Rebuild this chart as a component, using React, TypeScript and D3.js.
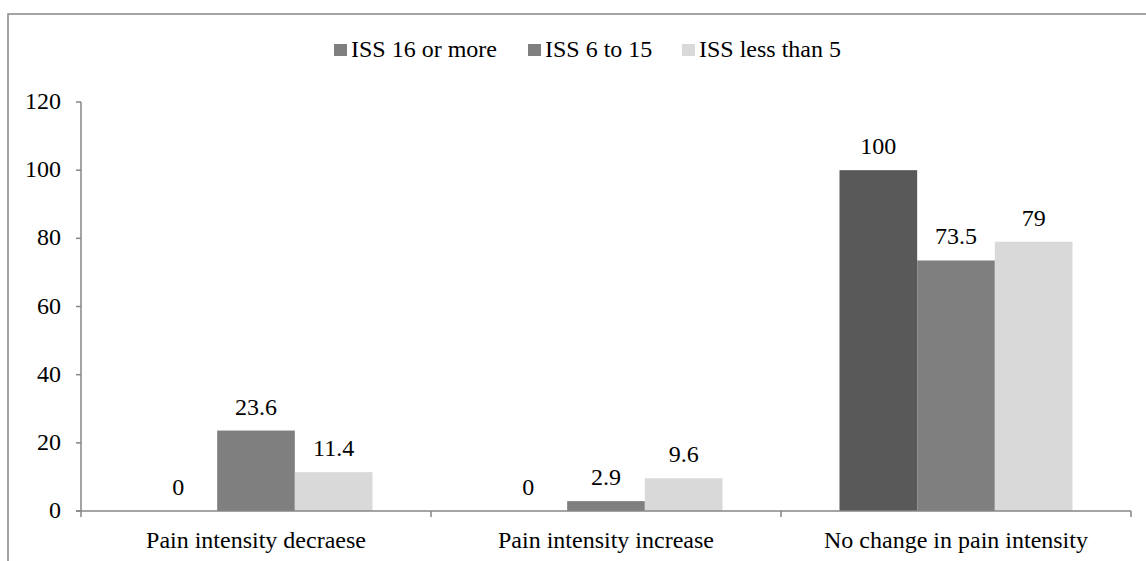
import React, { useEffect, useRef } from "react";
import * as d3 from "d3";

const categories = ["Pain intensity decraese", "Pain intensity increase", "No change in pain intensity"];
const seriesNames = ["ISS 16 or more", "ISS 6 to 15", "ISS less than 5"];
const iss16 = [0, 0, 100];
const iss6to15 = [23.6, 2.9, 73.5];
const issLess5 = [11.4, 9.6, 79];
const yTicks = [0, 20, 40, 60, 80, 100, 120];
const barColors = ["#595959", "#7f7f7f", "#d9d9d9"];
const legendColors = ["#7f7f7f", "#7f7f7f", "#d9d9d9"];

const W = 1146;
const H = 561;
const FS = 24;

export default function App() {
  const ref = useRef<SVGSVGElement | null>(null);
  useEffect(() => {
    if (!ref.current) return;
    d3.select(ref.current)
      .selectAll<SVGTextElement, unknown>("text")
      .each(function () {
        this.style.setProperty("font-family", '"Liberation Serif", "Times New Roman", serif', "important");
        this.style.setProperty("font-size", FS + "px", "important");
      });
  }, []);

  const series = [iss16, iss6to15, issLess5];
  const x0 = d3.scaleBand<string>().domain(categories).range([81, 1131]).paddingInner(0).paddingOuter(0);
  const groupPad = 58.5;
  const x1 = d3
    .scaleBand<string>()
    .domain(seriesNames)
    .range([groupPad, x0.bandwidth() - groupPad])
    .padding(0);
  const y = d3.scaleLinear().domain([0, 120]).range([511, 102]);
  const axisColor = "#868686";
  const ts = { fontFamily: `"Liberation Serif"`, fontSize: FS };

  const legendItems = [
    { x: 334, tx: 351 },
    { x: 528, tx: 545 },
    { x: 682, tx: 699 },
  ];

  return (
    <svg ref={ref} width={W} height={H} fontFamily="Liberation Serif" style={{ position: "absolute", left: 0, top: 0 }}>
      <rect x={0} y={0} width={W} height={H} fill="#fff" />
      <rect x={8} y={14} width={W + 10} height={H + 10} fill="none" stroke="#868686" strokeWidth={1.5} />

      {seriesNames.map((s, i) => (
        <g key={s}>
          <rect x={legendItems[i].x} y={44} width={13} height={12} fill={legendColors[i]} />
          <text x={legendItems[i].tx} y={57} style={ts}>
            {s}
          </text>
        </g>
      ))}

      <line x1={81} x2={81} y1={y(120)} y2={y(0)} stroke={axisColor} strokeWidth={1.5} />
      {yTicks.map((t) => (
        <g key={t}>
          <line x1={76} x2={81} y1={y(t)} y2={y(t)} stroke={axisColor} strokeWidth={1.5} />
          <text x={61} y={y(t) + 7} style={ts} textAnchor="end">
            {t}
          </text>
        </g>
      ))}

      {categories.map((c, ci) => (
        <g key={c} transform={`translate(${x0(c)},0)`}>
          {seriesNames.map((s, si) => {
            const v = series[si][ci];
            const bx = x1(s) as number;
            return (
              <g key={s}>
                <rect x={bx} y={y(v)} width={x1.bandwidth()} height={y(0) - y(v)} fill={barColors[si]} />
                <text x={bx + x1.bandwidth() / 2} y={y(v) - 16} style={ts} textAnchor="middle">
                  {String(v)}
                </text>
              </g>
            );
          })}
        </g>
      ))}

      <line x1={76} x2={1131} y1={y(0)} y2={y(0)} stroke={axisColor} strokeWidth={1.5} />
      {[0, 1, 2, 3].map((i) => {
        const xx = 81 + i * x0.step();
        return <line key={i} x1={xx} x2={xx} y1={y(0)} y2={y(0) + 6} stroke={axisColor} strokeWidth={1.5} />;
      })}
      {categories.map((c) => (
        <text key={c} x={(x0(c) as number) + x0.bandwidth() / 2} y={548} style={ts} textAnchor="middle">
          {c}
        </text>
      ))}
    </svg>
  );
}
